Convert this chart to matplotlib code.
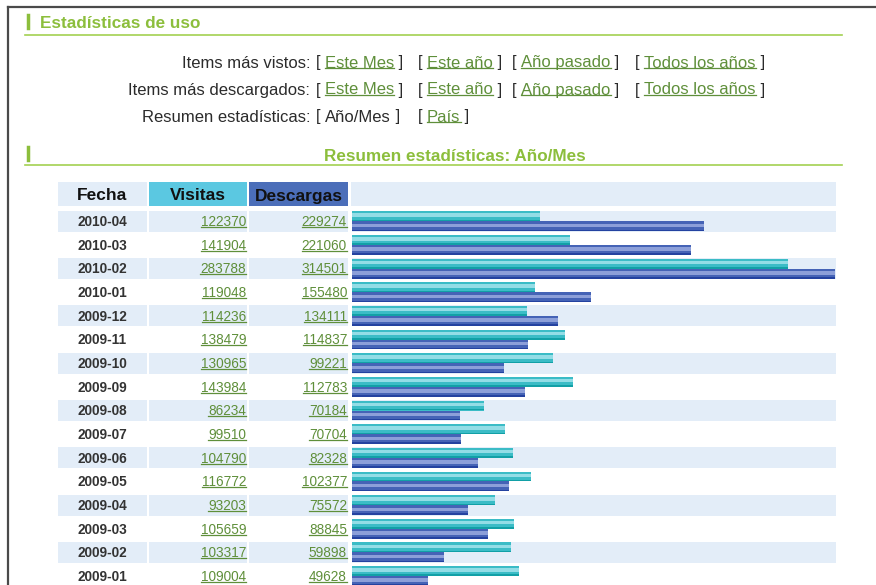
import numpy as np
import matplotlib
matplotlib.use("Agg")
import matplotlib.pyplot as plt
from matplotlib.patches import Rectangle

# data
fechas = ["2010-04", "2010-03", "2010-02", "2010-01", "2009-12", "2009-11",
          "2009-10", "2009-09", "2009-08", "2009-07", "2009-06", "2009-05",
          "2009-04", "2009-03", "2009-02", "2009-01"]
visitas = [122370, 141904, 283788, 119048, 114236, 138479, 130965, 143984,
           86234, 99510, 104790, 116772, 93203, 105659, 103317, 109004]
descargas = [229274, 221060, 314501, 155480, 134111, 114837, 99221, 112783,
             70184, 70704, 82328, 102377, 75572, 88845, 59898, 49628]

menu_labels = ["Items más vistos:", "Items más descargados:", "Resumen estadísticas:"]
menu_links = [["Este Mes", "Este año", "Año pasado", "Todos los años"],
              ["Este Mes", "Este año", "Año pasado", "Todos los años"],
              ["Año/Mes", "País"]]

plt.rcParams["font.family"] = ["Liberation Sans", "DejaVu Sans"]

GREEN = "#8cbe3c"
LINE_GREEN = "#a3d152"
LINK = "#5f8f3a"
BAND = "#e3edf8"
TXT = "#2b2b2b"

fig = plt.figure(figsize=(8.76, 5.85), dpi=100)
ax = fig.add_axes([0, 0, 1, 1])
ax.set_xlim(0, 876)
ax.set_ylim(585, 0)
ax.axis("off")
renderer = fig.canvas.get_renderer()

# page frame
ax.plot([8, 8], [7, 585], color="#4a4a4a", lw=1.6)
ax.plot([8, 876], [7, 7], color="#4a4a4a", lw=1.6)


def to_data_y(disp_y):
    return ax.transData.inverted().transform((0, disp_y))[1]


def piece(x, y, s, color=TXT, link=False, size=12, weight="normal"):
    t = ax.text(x, y, s, color=color, fontsize=size, weight=weight,
                ha="left", va="center")
    bb = t.get_window_extent(renderer)
    if link:
        yb = to_data_y(bb.y0) - 2.5
        ax.plot([bb.x0, bb.x1], [yb, yb], color=color, lw=0.9)
    return x + bb.width


def underlined_right(x, y, s, size):
    t = ax.text(x, y, s, color=LINK, fontsize=size, ha="right", va="center")
    bb = t.get_window_extent(renderer)
    yb = to_data_y(bb.y0) - 2
    ax.plot([bb.x0, bb.x1], [yb, yb], color=LINK, lw=0.9)


# section 1
ax.plot([28, 28], [15, 28], color=GREEN, lw=2.5)
ax.text(40, 24, "Estadísticas de uso", color=GREEN, fontsize=12.3,
        weight="bold", va="center")
ax.plot([25, 842], [35, 35], color=LINE_GREEN, lw=1.2)

group_x = [316, 418, 512, 635]
for r, (lab, links) in enumerate(zip(menu_labels, menu_links)):
    y = 63 + 27 * r
    ax.text(310, y, lab, color=TXT, fontsize=12, ha="right", va="center")
    for k, lk in enumerate(links):
        x = piece(group_x[k], y, "[ ", color=TXT)
        is_link = not (r == 2 and k == 0)
        x = piece(x, y, lk, color=LINK if is_link else TXT, link=is_link)
        piece(x, y, " ]", color=TXT)

# section 2
ax.plot([28, 28], [147, 160], color=GREEN, lw=2.5)
ax.text(455, 156.5, "Resumen estadísticas: Año/Mes", color=GREEN, fontsize=12.3,
        weight="bold", ha="center", va="center")
ax.plot([25, 842], [165, 165], color=LINE_GREEN, lw=1.2)

# table header
cols = [(58, 147), (149, 247), (249, 348), (351, 836)]
head_colors = [BAND, "#5bc8e1", "#4b6eb9", BAND]
for (x0, x1), c in zip(cols, head_colors):
    ax.add_patch(Rectangle((x0, 182), x1 - x0, 24, color=c, lw=0))
for xc, lab in zip([102, 198, 299], ["Fecha", "Visitas", "Descargas"]):
    ax.text(xc, 196, lab, fontsize=12.5, weight="bold", color="#111",
            ha="center", va="center")

# table rows
pitch = 23.65
y0 = 221.3
for i, (f, v, d) in enumerate(zip(fechas, visitas, descargas)):
    yc = y0 + pitch * i
    if i % 2 == 0:
        for x0, x1 in cols[:3]:
            ax.add_patch(Rectangle((x0, yc - 10.5), x1 - x0, 21, color=BAND, lw=0))
    ax.text(102, yc + 0.8, f, fontsize=9.8, color="#333", weight="bold",
            ha="center", va="center")
    underlined_right(246, yc + 0.8, str(v), 9.8)
    underlined_right(347, yc + 0.8, str(d), 9.8)

# bar column
top_px = y0 - 0.5 * pitch
bot_px = y0 + 15.5 * pitch
axb = fig.add_axes([352 / 876, (585 - bot_px) / 585, (836 - 352) / 876,
                    (bot_px - top_px) / 585])
axb.set_xlim(0, 315300)
axb.set_ylim(15.5, -0.5)
axb.axis("off")
axb.patch.set_alpha(0)

idx = np.arange(len(fechas))
for i in idx[::2]:
    axb.axhspan(i - 0.445, i + 0.445, color=BAND, lw=0, zorder=0)

h = 0.42
# visitas bars (teal, striped)
axb.barh(idx - h / 2, visitas, height=h, color="#3bbcc6", lw=0, zorder=2)
axb.barh(idx - h * 0.62, visitas, height=h * 0.35, color="#93dde6", lw=0, zorder=3)
axb.barh(idx - h * 0.08, visitas, height=h * 0.16, color="#12a0a6", lw=0, zorder=3)
# descargas bars (blue, striped)
axb.barh(idx + h / 2, descargas, height=h, color="#4563b6", lw=0, zorder=2)
axb.barh(idx + h * 0.42, descargas, height=h * 0.35, color="#8c9fd9", lw=0, zorder=3)
axb.barh(idx + h * 0.92, descargas, height=h * 0.16, color="#2442a0", lw=0, zorder=3)

fig.savefig("out.png", dpi=100)
